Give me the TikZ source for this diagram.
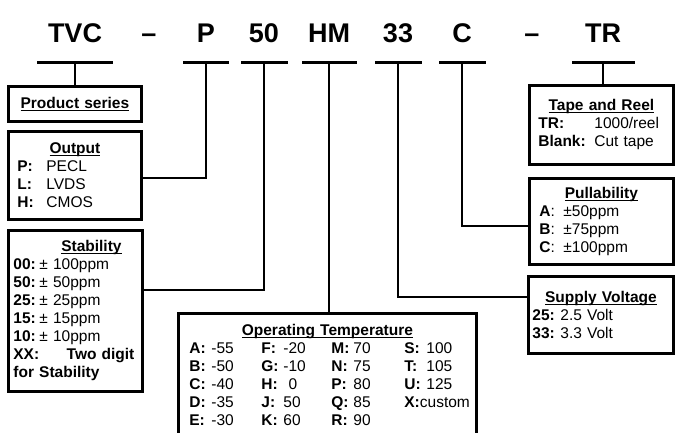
\documentclass[tikz,border=0pt]{standalone}
\usepackage{fontspec}
\setmainfont{Liberation Sans}
\usetikzlibrary{calc}

\newcommand{\key}[2]{\makebox[#1][l]{\textbf{#2}}}
\newcommand{\ul}[1]{\setbox0\hbox{#1}\rlap{\rule[-2.5pt]{\wd0}{1.2pt}}\box0}
\newcommand{\heading}[2][0pt]{\makebox[\linewidth]{\hspace{#1}\ul{\textbf{#2}}}}
\newcommand{\entry}[3]{\key{22pt}{#1:}\makebox[#3][l]{#2}}

\begin{document}
\begin{tikzpicture}[x=1pt, y=-1pt,
    code/.style={anchor=base, font=\fontsize{27}{30}\selectfont\bfseries},
    bar/.style={fill, inner sep=0pt, minimum height=3pt},
    box/.style={draw, line width=2.8pt, anchor=north west, align=left,
      inner ysep=0pt, font=\fontsize{15.5}{18}\selectfont},
    link/.style={line width=1.8pt}]
    \useasboundingbox (0,0) rectangle (677,432);
    % part number
    \node[code] (TVC) at (75,42) {TVC};
    \node[code] (dashA) at (149,42) {–};
    \node[code] (P) at (206,42) {P};
    \node[code] (F50) at (264,42) {50};
    \node[code] (HM) at (329,42) {HM};
    \node[code] (V33) at (398,42) {33};
    \node[code] (C) at (462,42) {C};
    \node[code] (dashB) at (532,42) {–};
    \node[code] (TR) at (603,42) {TR};
    \node[bar, minimum width=76pt] (bTVC) at (75,62) {};
    \node[bar, minimum width=46pt] (bP) at (206,62) {};
    \node[bar, minimum width=47pt] (b50) at (264,62) {};
    \node[bar, minimum width=55pt] (bHM) at (329,62) {};
    \node[bar, minimum width=47pt] (b33) at (398,62) {};
    \node[bar, minimum width=47pt] (bC) at (462,62) {};
    \node[bar, minimum width=63pt] (bTR) at (603,62) {};
    % option boxes
    \node[box, minimum height=35pt, text width=123pt, inner xsep=5pt] (prod) at (7,85)
      {\heading{Product series}};
    \node[box, minimum height=88pt, text width=115pt, inner xsep=9pt] (out) at (7,130)
      {\heading{Output}\\ \key{29pt}{P:}PECL\\ \key{29pt}{L:}LVDS\\ \key{29pt}{H:}CMOS};
    \node[box, minimum height=161pt, text width=124pt, inner xsep=5pt] (stab) at (7,229)
      {\heading[32pt]{Stability}\\ \key{26pt}{00:}± 100ppm\\ \key{26pt}{50:}± 50ppm\\
       \key{26pt}{25:}± 25ppm\\ \key{26pt}{15:}± 15ppm\\ \key{26pt}{10:}± 10ppm\\
       \makebox[\linewidth][l]{\textbf{XX:}\hfill\textbf{Two digit}\hspace{3pt}}\\
       \textbf{for Stability}};
    \node[box, minimum height=123pt, text width=276pt, inner xsep=11pt] (temp) at (177,312)
      {\heading{Operating Temperature}\\
       \entry{A}{-55}{50pt}\entry{F}{-20}{48pt}\entry{M}{70}{51pt}\key{22pt}{S:}100\\
       \entry{B}{-50}{50pt}\entry{G}{-10}{48pt}\entry{N}{75}{51pt}\key{22pt}{T:}105\\
       \entry{C}{-40}{50pt}\entry{H}{\phantom{-}0}{48pt}\entry{P}{80}{51pt}\key{22pt}{U:}125\\
       \entry{D}{-35}{50pt}\entry{J}{50}{48pt}\entry{Q}{85}{51pt}\textbf{X:}custom\\
       \entry{E}{-30}{50pt}\entry{K}{60}{48pt}\entry{R}{90}{51pt}};
    \node[box, minimum height=79pt, text width=126pt, inner xsep=9pt] (tape) at (528,84)
      {\heading{Tape and Reel}\\ \key{56pt}{TR:}1000/reel\\ \key{56pt}{Blank:}Cut tape};
    \node[box, minimum height=86pt, text width=124pt, inner xsep=10pt] (pull) at (528,177)
      {\heading{Pullability}\\ \makebox[24pt][l]{\textbf{A}:}±50ppm\\
       \makebox[24pt][l]{\textbf{B}:}±75ppm\\ \makebox[24pt][l]{\textbf{C}:}±100ppm};
    \node[box, minimum height=77pt, text width=137pt, inner xsep=4pt] (supply) at (527,275)
      {\heading{Supply Voltage}\\ \key{28pt}{25:}2.5 Volt\\ \key{28pt}{33:}3.3 Volt};
    % connectors
    \draw[link] (bTVC.south) -- (bTVC.south |- prod.north);
    \draw[link] (bP.south) |- ($(out.north east)+(0,48)$);
    \draw[link] (b50.south) |- ($(stab.north east)+(0,61)$);
    \draw[link] (bHM.south) -- (bHM.south |- temp.north);
    \draw[link] (b33.south) |- ($(supply.north west)+(0,22)$);
    \draw[link] (bC.south) |- ($(pull.north west)+(0,49)$);
    \draw[link] (bTR.south) -- (bTR.south |- tape.north);
\end{tikzpicture}
\end{document}
